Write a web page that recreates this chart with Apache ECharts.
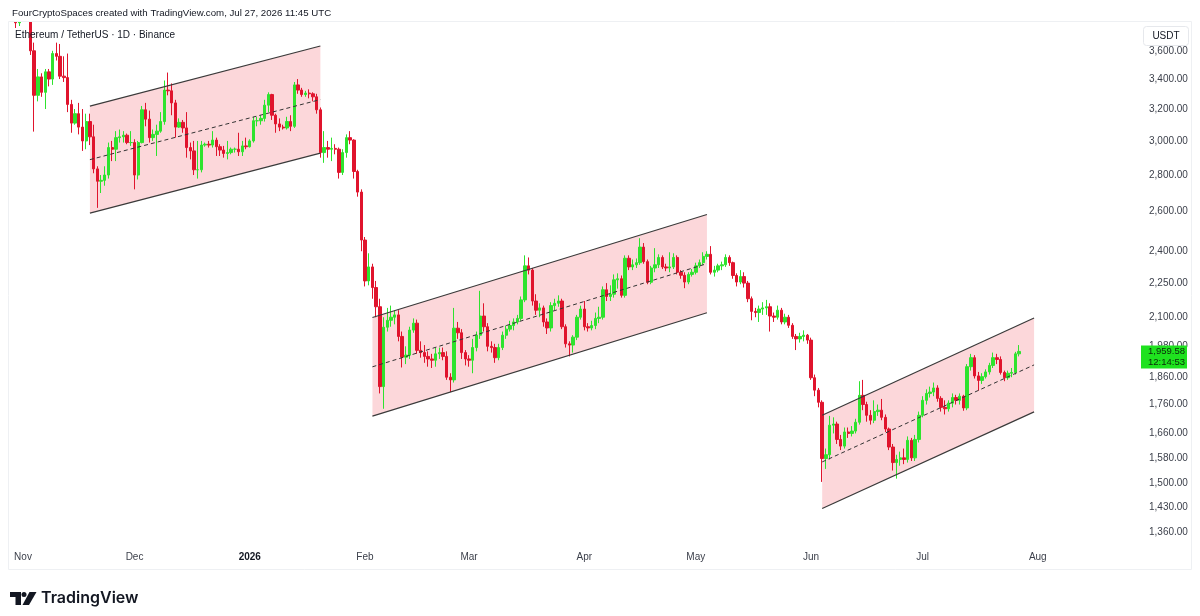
<!DOCTYPE html>
<html><head><meta charset="utf-8">
<script src="https://cdn.jsdelivr.net/npm/echarts@6/dist/echarts.min.js"></script>
<style>html,body{margin:0;padding:0;background:#fff}#c{width:1200px;height:616px}</style>
</head><body><div id="c"></div>
<script>
// ---- categories ----
const startDate = '2025-10-29';
const dayCount = 304;

// ---- daily candles [open, close, low, high] (USDT) ----
const oct2025 = [[3975,3905,3880,4030],[3905,3810,3770,3940],[3810,3848,3785,3870]];
const nov2025 = [[3848,3874,3830,3885],[3874,3908,3840,3920],[3908,3600,3570,3920],[3600,3290,3057,3660],[3290,3415,3250,3470],
[3415,3310,3280,3440],[3310,3450,3200,3470],[3450,3400,3350,3470],[3400,3580,3360,3600],[3580,3560,3530,3660],
[3560,3420,3400,3650],[3420,3410,3380,3560],[3410,3230,3180,3580],[3230,3110,3050,3260],[3110,3170,3100,3200],
[3170,3085,3040,3240],[3085,3000,2940,3200],[3000,3120,2950,3170],[3120,3025,2975,3170],[3025,2835,2810,3100],
[2835,2765,2620,2850],[2765,2770,2700,2800],[2770,2800,2740,2850],[2800,2960,2780,2990],[2960,2950,2880,3000],
[2950,3020,2880,3060],[3020,3025,2990,3070],[3025,3035,2990,3060],[3035,2990,2980,3045],[2990,2990,2970,3060]];
const dec2025 = [[2990,2800,2720,3010],[2800,2990,2775,3000],[2990,3195,2985,3220],[3195,3135,3090,3240],[3135,3020,2990,3190],
[3020,3040,3000,3070],[3040,3060,2910,3100],[3060,3120,3050,3180],[3120,3325,3100,3390],[3325,3320,3290,3445],
[3320,3240,3160,3370],[3240,3085,3020,3260],[3085,3115,3080,3140],[3115,3080,3050,3130],[3080,2960,2900,3180],
[2960,2940,2890,2990],[2940,2830,2800,3000],[2830,2830,2780,3000],[2830,2975,2815,3000],[2975,2980,2965,2990],
[2980,2975,2960,3000],[2975,3005,2960,3060],[3005,2965,2910,3020],[2965,2945,2910,2980],[2945,2925,2900,2970],
[2925,2930,2890,3000],[2930,2950,2920,2960],[2950,2950,2930,2960],[2950,2935,2910,3050],[2935,2970,2910,3000],
[2970,2965,2950,3020]];
const jan2026 = [[2965,3000,2960,3010],[3000,3125,2990,3150],[3125,3125,3090,3150],[3125,3140,3100,3160],[3140,3225,3120,3260],
[3225,3295,3180,3310],[3295,3160,3130,3300],[3160,3105,3050,3170],[3105,3085,3060,3140],[3085,3080,3070,3100],
[3080,3120,3070,3150],[3120,3090,3060,3160],[3090,3360,3080,3380],[3360,3325,3300,3400],[3325,3295,3280,3340],
[3295,3305,3280,3320],[3305,3300,3270,3330],[3300,3280,3250,3310],[3280,3195,3170,3300],[3195,2930,2900,3210],
[2930,2960,2870,3060],[2960,2950,2900,3000],[2950,2955,2880,3020],[2955,2950,2920,2980],[2950,2815,2780,2960],
[2815,2930,2800,2950],[2930,3020,2900,3040],[3020,3005,2980,3060],[3005,2820,2780,3010],[2820,2705,2680,2830],
[2705,2455,2400,2720]];
const feb2026 = [[2455,2260,2235,2470],[2260,2325,2240,2390],[2325,2230,2180,2340],[2230,2145,2100,2260],[2145,1825,1800,2180],
[1825,2058,1745,2100],[2058,2087,2040,2140],[2087,2100,2060,2150],[2100,2110,2070,2130],[2110,2020,2000,2130],
[2020,1937,1897,2040],[1937,1945,1910,1980],[1945,2046,1930,2060],[2046,2075,2035,2095],[2075,1964,1950,2090],
[1964,1955,1935,2000],[1955,1940,1915,1985],[1940,1930,1900,1960],[1930,1925,1895,1950],[1925,1950,1900,1975],
[1950,1955,1930,1975],[1955,1940,1925,1975],[1940,1860,1850,1960],[1860,1850,1805,1875],[1850,2054,1840,2140],
[2054,2035,2010,2080],[2035,1955,1930,2050],[1955,1930,1905,1965]];
const mar2026 = [[1930,1925,1900,1945],[1925,1975,1875,2010],[1975,2025,1960,2040],[2025,2105,2010,2215],[2105,2060,2040,2160],
[2060,1980,1960,2075],[1980,1975,1955,2000],[1975,1935,1915,1990],[1935,1975,1925,1990],[1975,2025,1965,2040],
[2025,2050,2010,2065],[2050,2065,2040,2085],[2065,2080,2045,2095],[2080,2095,2070,2110],[2095,2175,2085,2190],
[2175,2330,2165,2380],[2330,2310,2290,2370],[2310,2170,2150,2320],[2170,2130,2110,2200],[2130,2140,2100,2160],
[2140,2080,2060,2150],[2080,2055,2030,2095],[2055,2150,2040,2165],[2150,2160,2130,2180],[2160,2170,2145,2195],
[2170,2060,2050,2180],[2060,1990,1975,2070],[1990,1985,1940,2000],[1985,2017,1955,2025],[2017,2100,2005,2110],
[2100,2135,2090,2150]];
const apr2026 = [[2135,2060,2045,2170],[2060,2055,2040,2075],[2055,2065,2045,2085],[2065,2095,2050,2120],[2095,2100,2075,2145],
[2100,2220,2090,2235],[2220,2190,2170,2250],[2190,2200,2170,2240],[2200,2265,2185,2290],[2265,2270,2225,2295],
[2270,2195,2185,2285],[2195,2366,2185,2380],[2366,2325,2310,2380],[2325,2335,2310,2360],[2335,2345,2320,2365],
[2345,2420,2335,2464],[2420,2350,2340,2440],[2350,2254,2245,2360],[2254,2320,2245,2330],[2320,2335,2300,2415],
[2335,2370,2320,2385],[2370,2325,2315,2380],[2325,2320,2305,2340],[2320,2325,2300,2395],[2325,2370,2315,2390],
[2370,2300,2290,2380],[2300,2286,2270,2310],[2286,2255,2227,2300],[2255,2290,2245,2300],[2290,2300,2280,2315]];
const may2026 = [[2300,2330,2290,2345],[2330,2345,2320,2360],[2345,2375,2335,2395],[2375,2385,2360,2400],[2385,2300,2290,2425],
[2300,2310,2280,2330],[2310,2330,2300,2340],[2330,2335,2310,2350],[2335,2370,2325,2385],[2370,2345,2330,2380],
[2345,2285,2270,2350],[2285,2255,2235,2295],[2255,2280,2245,2310],[2280,2250,2230,2300],[2250,2180,2165,2260],
[2180,2125,2087,2190],[2125,2120,2100,2140],[2120,2135,2080,2150],[2135,2140,2110,2165],[2140,2145,2110,2175],
[2145,2105,2040,2160],[2105,2100,2080,2120],[2100,2130,2090,2150],[2130,2080,2070,2140],[2080,2100,2070,2115],
[2100,2066,2055,2110],[2066,2020,2010,2075],[2020,2010,1965,2030],[2010,2020,1995,2035],[2020,2025,2000,2045],
[2025,2005,1990,2030]];
const jun2026 = [[2005,1858,1850,2015],[1858,1812,1790,1870],[1812,1768,1750,1820],[1768,1578,1505,1775],[1578,1590,1545,1610],
[1590,1688,1575,1720],[1688,1692,1660,1715],[1692,1640,1625,1700],[1640,1618,1605,1655],[1618,1665,1610,1680],
[1665,1660,1645,1680],[1660,1668,1650,1685],[1668,1698,1660,1710],[1698,1793,1690,1845],[1793,1760,1740,1850],
[1760,1722,1700,1770],[1722,1705,1690,1740],[1705,1735,1695,1775],[1735,1740,1720,1760],[1740,1715,1705,1780],
[1715,1675,1665,1725],[1675,1615,1605,1680],[1615,1565,1540,1625],[1565,1575,1515,1590],[1575,1580,1555,1600],
[1580,1575,1560,1610],[1575,1637,1565,1650],[1637,1580,1570,1645],[1580,1640,1570,1655],[1640,1722,1630,1735]];
const jul2026 = [[1722,1775,1715,1790],[1775,1800,1760,1815],[1800,1805,1785,1825],[1805,1820,1790,1840],[1820,1782,1770,1830],
[1782,1750,1735,1790],[1750,1745,1725,1775],[1745,1765,1735,1775],[1765,1785,1750,1800],[1785,1775,1760,1795],
[1775,1790,1760,1800],[1790,1748,1738,1795],[1748,1900,1740,1910],[1900,1935,1885,1950],[1935,1865,1855,1945],
[1865,1848,1810,1880],[1848,1862,1835,1875],[1862,1880,1855,1890],[1880,1905,1870,1915],[1905,1935,1895,1955],
[1935,1928,1910,1950],[1928,1878,1870,1940],[1878,1858,1845,1885],[1858,1875,1850,1885],[1875,1878,1860,1895],
[1878,1950,1870,1958],[1950,1959.58,1940,1985]];

// ---- price axis ticks ----
const yTicks = [1360,1430,1500,1580,1660,1760,1860,1980,2100,2250,2400,2600,2800,3000,3200,3400,3600];
const priceMin = 1330, priceMax = 3816;
const lastPrice = 1959.58;
const countdown = '12:14:53';

// ---- parallel channels ----
const chStart = ['2025-11-19','2026-02-03','2026-06-04'];
const chEnd = ['2026-01-20','2026-05-04','2026-07-31'];
const chTopStart = [3219, 2099, 1722];
const chTopEnd = [3635, 2585, 2097];
const chBotStart = [2592, 1719, 1426];
const chBotEnd = [2927, 2119, 1734];

// ---- build ----
const dates = [];
{
  const p = startDate.split('-').map(Number);
  const t0 = Date.UTC(p[0], p[1]-1, p[2]);
  for (let k = 0; k < dayCount; k++) dates.push(new Date(t0 + k*86400000).toISOString().slice(0,10));
}
const ohlc = [].concat(oct2025, nov2025, dec2025, jan2026, feb2026, mar2026, apr2026, may2026, jun2026, jul2026);
const candleData = dates.map((d,k) => k < ohlc.length ? ohlc[k].map(Math.log) : '-');
const L = Math.log;
const monthNames = ['Jan','Feb','Mar','Apr','May','Jun','Jul','Aug','Sep','Oct','Nov','Dec'];
const fmtPrice = v => v.toLocaleString('en-US',{minimumFractionDigits:2, maximumFractionDigits:2});
const FONT = 'Liberation Sans';
const UP = '#2ee32e', DOWN = '#e0142d';

const chData = chStart.map((d,k) => [dates.indexOf(d), L(chTopStart[k])]);
function chPts(api, k) {
  const i0 = dates.indexOf(chStart[k]), i1 = dates.indexOf(chEnd[k]);
  const c = (i, v) => api.coord([i, v]);
  const ts = L(chTopStart[k]), te = L(chTopEnd[k]), bs = L(chBotStart[k]), be = L(chBotEnd[k]);
  return {
    tl: c(i0, ts), tr: c(i1, te), bl: c(i0, bs), br: c(i1, be),
    ml: c(i0, (ts+bs)/2), mr: c(i1, (te+be)/2)
  };
}

const option = {
  animation: false,
  backgroundColor: '#ffffff',
  grid: { left: 10, right: 60, top: 22, bottom: 73 },
  xAxis: {
    type: 'category', data: dates, boundaryGap: true,
    axisLine: { show: false }, axisTick: { show: false }, splitLine: { show: false },
    axisLabel: {
      interval: (i, v) => v.slice(8) === '01',
      margin: 9, color: '#3b3f4a', fontFamily: FONT, fontSize: 10,
      formatter: v => v.slice(5,7) === '01' ? '{b|' + v.slice(0,4) + '}' : monthNames[+v.slice(5,7)-1],
      rich: { b: { fontWeight: 'bold', color: '#131722', fontFamily: FONT, fontSize: 10 } }
    }
  },
  yAxis: {
    type: 'value', position: 'right', min: L(priceMin), max: L(priceMax), scale: true,
    axisLine: { show: false }, axisTick: { show: false }, splitLine: { show: false },
    axisLabel: {
      customValues: yTicks.map(L), margin: 9, color: '#3b3f4a', fontFamily: FONT, fontSize: 10,
      formatter: v => fmtPrice(Math.round(Math.exp(v)))
    }
  },
  series: [
    { type: 'custom', z: 1, silent: true, data: chData,
      renderItem: (params, api) => {
        const p = chPts(api, params.dataIndex);
        return { type: 'polygon', shape: { points: [p.tl, p.tr, p.br, p.bl] }, style: { fill: 'rgba(242,54,69,0.2)' } };
      } },
    { type: 'candlestick', z: 2, data: candleData, barWidth: '78%', clip: true,
      itemStyle: { color: UP, color0: DOWN, borderColor: UP, borderColor0: DOWN, borderWidth: 1 } },
    { type: 'custom', z: 3, silent: true, data: chData,
      renderItem: (params, api) => {
        const p = chPts(api, params.dataIndex);
        const solid = { stroke: '#3a3a3a', lineWidth: 1.2 };
        return { type: 'group', children: [
          { type: 'line', shape: { x1: p.tl[0], y1: p.tl[1], x2: p.tr[0], y2: p.tr[1] }, style: solid },
          { type: 'line', shape: { x1: p.bl[0], y1: p.bl[1], x2: p.br[0], y2: p.br[1] }, style: solid },
          { type: 'line', shape: { x1: p.ml[0], y1: p.ml[1], x2: p.mr[0], y2: p.mr[1] }, style: { stroke: '#333', lineWidth: 1, lineDash: [4, 3] } }
        ] };
      } }
  ]
};

const chart = echarts.init(document.getElementById('c'), null, { renderer: 'canvas' });
chart.setOption(option);
const py = chart.convertToPixel({ yAxisIndex: 0 }, L(lastPrice));
chart.setOption({ graphic: [
  { id: 'topcover', type: 'rect', shape: { x: 0, y: 0, width: 1200, height: 21.5 }, style: { fill: '#ffffff' }, z: 8, silent: true },
  { id: 'frame', type: 'rect', shape: { x: 8.5, y: 21.5, width: 1183, height: 548 }, style: { fill: 'none', stroke: '#eef0f3', lineWidth: 1 }, z: 9, silent: true },
  { id: 'title', type: 'text', left: 12, top: 8, style: { text: 'FourCryptoSpaces created with TradingView.com, Jul 27, 2026 11:45 UTC', fill: '#131722', font: '9.7px "' + FONT + '"' }, z: 10 },
  { id: 'sym', type: 'text', left: 15, top: 30.5, style: { text: 'Ethereum / TetherUS · 1D · Binance', fill: '#131722', font: '10px "' + FONT + '"' }, z: 10 },
  { id: 'usdtbox', type: 'rect', shape: { x: 1143.5, y: 26.5, width: 45, height: 19, r: 3 }, style: { fill: '#fff', stroke: '#e6e8ec', lineWidth: 1 }, z: 10 },
  { id: 'usdt', type: 'text', x: 1166, y: 36.5, style: { text: 'USDT', fill: '#131722', font: '10px "' + FONT + '"', align: 'center', verticalAlign: 'middle' }, z: 11 },
  { id: 'pbox', type: 'rect', shape: { x: 1141, y: py - 6, width: 46, height: 23 }, style: { fill: '#1fe21f' }, z: 10 },
  { id: 'ptxt', type: 'text', x: 1185, y: py, style: { text: fmtPrice(lastPrice), fill: '#0b2a0b', font: '9.5px "' + FONT + '"', align: 'right', verticalAlign: 'middle' }, z: 11 },
  { id: 'ctxt', type: 'text', x: 1185, y: py + 11, style: { text: countdown, fill: '#0b2a0b', font: '9.5px "' + FONT + '"', align: 'right', verticalAlign: 'middle' }, z: 11 },
  { id: 'logo1', type: 'polygon', shape: { points: [[10,592],[21,592],[21,605],[15.5,605],[15.5,597],[10,597]] }, style: { fill: '#131722' }, z: 10 },
  { id: 'logo2', type: 'circle', shape: { cx: 24, cy: 594.5, r: 2.5 }, style: { fill: '#131722' }, z: 10 },
  { id: 'logo3', type: 'polygon', shape: { points: [[29.5,592],[36.5,592],[29,605],[22.5,605]] }, style: { fill: '#131722' }, z: 10 },
  { id: 'logotxt', type: 'text', x: 41, y: 598.5, style: { text: 'TradingView', fill: '#131722', font: '600 16px Inter', verticalAlign: 'middle' }, z: 10 }
] });
</script>
</body></html>
